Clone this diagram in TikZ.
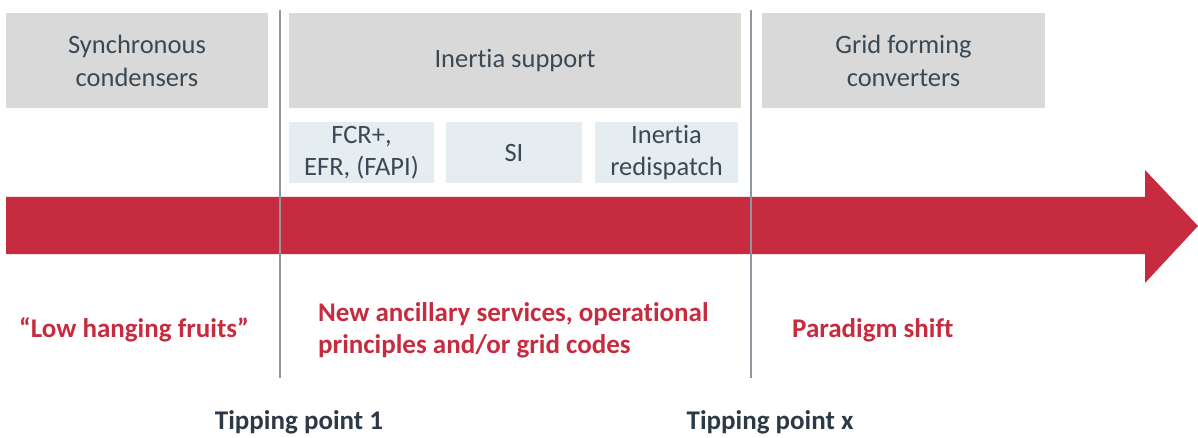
\documentclass[tikz,border=0pt]{standalone}
\usepackage{fontspec}
\setmainfont[Ligatures={NoCommon}]{Carlito}
\definecolor{boxgray}{HTML}{D9D9D9}
\definecolor{subbox}{HTML}{E6EDF1}
\definecolor{txtdark}{HTML}{3A4956}
\definecolor{tipdark}{HTML}{2C3A48}
\definecolor{redc}{HTML}{C62B3F}
\definecolor{linegray}{HTML}{8E979F}
\tikzset{
  mainbox/.style={fill=boxgray, draw=none, inner sep=0pt, text=txtdark, align=center, font=\fontsize{26.5}{33}\selectfont},
  subboxs/.style={fill=subbox, draw=none, inner sep=0pt, text=txtdark, align=center, font=\fontsize{26.5}{32}\selectfont},
  redtext/.style={text=redc, font=\bfseries\fontsize{27}{32}\selectfont, inner sep=0pt},
  tiptext/.style={text=tipdark, font=\bfseries\fontsize{27}{30}\selectfont, inner sep=0pt},
  divider/.style={draw=linegray, line width=1.5pt}
}
\begin{document}
\begin{tikzpicture}[x=1pt,y=-1pt]
\useasboundingbox (0,0) rectangle (1198,438);
% main boxes
\node[mainbox, minimum width=262pt, minimum height=95pt] (sync) at (137,60.5) {Synchronous\\condensers};
\node[mainbox, minimum width=452pt, minimum height=95pt] (inert) at (515,60.5) {Inertia support};
\node[mainbox, minimum width=283pt, minimum height=95pt] (gfc) at (903.5,60.5) {Grid forming\\converters};
% sub boxes
\node[subboxs, minimum width=145pt, minimum height=61pt] (fcr) at (361.5,152.5) {FCR+,\\EFR, (FAPI)};
\node[subboxs, minimum width=136pt, minimum height=61pt] (si) at (514,152.5) {SI};
\node[subboxs, minimum width=143pt, minimum height=61pt] (redis) at (666.5,152.5) {Inertia\\redispatch};
% arrow
\fill[redc] (6,197) -- (1145,197) -- (1145,170) -- (1198,226) -- (1145,283) -- (1145,254) -- (6,254) -- cycle;
% dividers
\coordinate (d1t) at (280,10);
\coordinate (d1b) at (280,378);
\coordinate (d2t) at (751,10);
\coordinate (d2b) at (751,378);
\draw[divider] (d1t) -- (d1b);
\draw[divider] (d2t) -- (d2b);
% red labels
\node[redtext] (low) at (134,330) {“Low hanging fruits”};
\node[redtext, anchor=west, align=left] (newanc) at (318,330) {New ancillary services, operational\\principles and/or grid codes};
\node[redtext, anchor=west] (para) at (792,330) {Paradigm shift};
% tipping points
\node[tiptext] (tp1) at (299,422.5) {Tipping point 1};
\node[tiptext] (tpx) at (770,422.5) {Tipping point x};
\end{tikzpicture}
\end{document}
